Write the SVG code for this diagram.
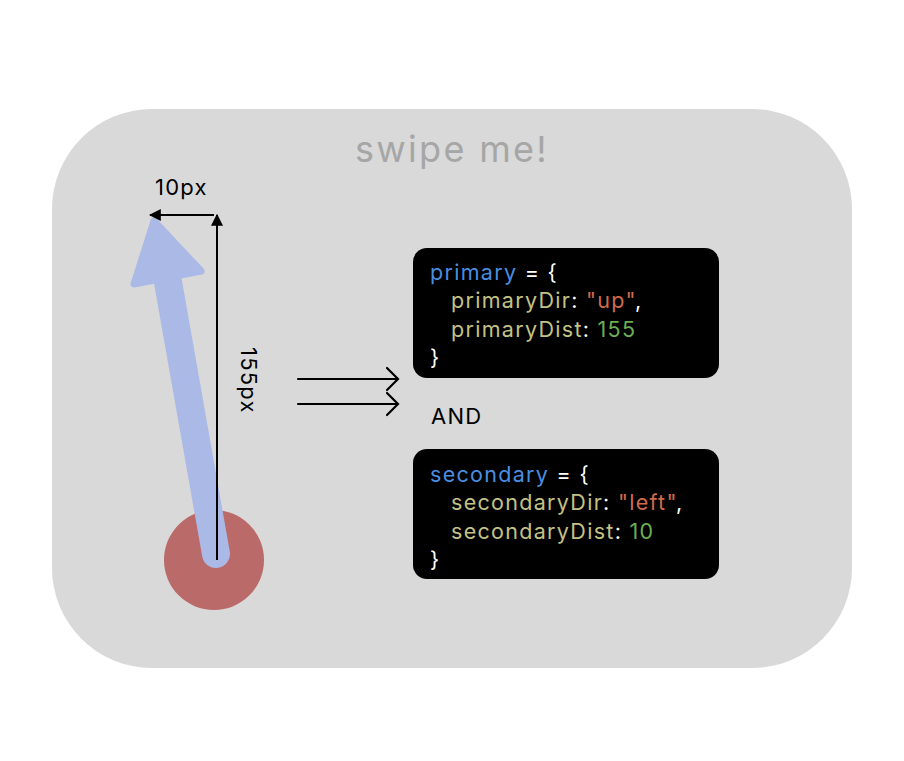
<svg xmlns="http://www.w3.org/2000/svg" width="904" height="761" viewBox="0 0 904 761">
<style>
text{font-family:Inter,"Noto Sans","Liberation Sans",sans-serif}
.lbl{font-size:22px;fill:#000;letter-spacing:1.2px}
.code{font-size:21.5px;fill:#fff;letter-spacing:1.3px}
.k{fill:#4a8ee0}
.p{fill:#c4c285}
.s{fill:#d06a4c}
.n{fill:#6cae52}
.dim{stroke:#000;stroke-width:2;fill:none}
.arr{stroke:#000;stroke-width:2.2;fill:none;stroke-linecap:round}
</style>
<defs>
<marker id="tri2" viewBox="0 0 10 10" refX="9" refY="5" markerWidth="12" markerHeight="12" orient="auto" markerUnits="userSpaceOnUse">
<path d="M0,0 L10,5 L0,10 z" fill="#000"/>
</marker>
</defs>
<rect width="904" height="761" fill="#fff"/>
<g id="surface">
<rect x="52" y="109" width="800" height="559" rx="100" fill="#d9d9d9"/>
<text x="452" y="162" font-size="36" fill="#a6a6a6" text-anchor="middle" letter-spacing="2.3">swipe me!</text>
</g>
<g id="touch">
<circle cx="214" cy="560" r="50" fill="#b96a69"/>
</g>
<g id="swipe">
<line x1="216" y1="554" x2="168" y2="282" stroke="#abb9e6" stroke-width="28" stroke-linecap="round"/>
<polygon points="154,221 134,284 201,271" fill="#abb9e6" stroke="#abb9e6" stroke-width="7" stroke-linejoin="round"/>
</g>
<g id="connectors">
<line class="dim" x1="217" y1="560" x2="217" y2="215" marker-end="url(#tri2)"/>
<line class="dim" x1="214" y1="215" x2="150" y2="215" marker-end="url(#tri2)"/>
<path class="arr" d="M298,379 H397 M387,368 L398,379 L387,390"/>
<path class="arr" d="M298,404 H397 M387,393 L398,404 L387,415"/>
</g>
<g id="labels">
<text class="lbl" x="155" y="195">10px</text>
<text class="lbl" transform="translate(241,347) rotate(90)" x="0" y="0">155px</text>
<text class="lbl" x="431" y="424">AND</text>
</g>
<g id="primary">
<rect x="413" y="248" width="306" height="130" rx="14" fill="#000"/>
<text class="code" x="430" y="280"><tspan class="k">primary</tspan> = {</text>
<text class="code" x="451" y="308"><tspan class="p">primaryDir</tspan>: <tspan class="s">"up"</tspan>,</text>
<text class="code" x="451" y="337"><tspan class="p">primaryDist</tspan>: <tspan class="n">155</tspan></text>
<text class="code" x="430" y="365">}</text>
</g>
<g id="secondary">
<rect x="413" y="449" width="306" height="130" rx="14" fill="#000"/>
<text class="code" x="430" y="482"><tspan class="k">secondary</tspan> = {</text>
<text class="code" x="451" y="510"><tspan class="p">secondaryDir</tspan>: <tspan class="s">"left"</tspan>,</text>
<text class="code" x="451" y="539"><tspan class="p">secondaryDist</tspan>: <tspan class="n">10</tspan></text>
<text class="code" x="430" y="567">}</text>
</g>
</svg>
